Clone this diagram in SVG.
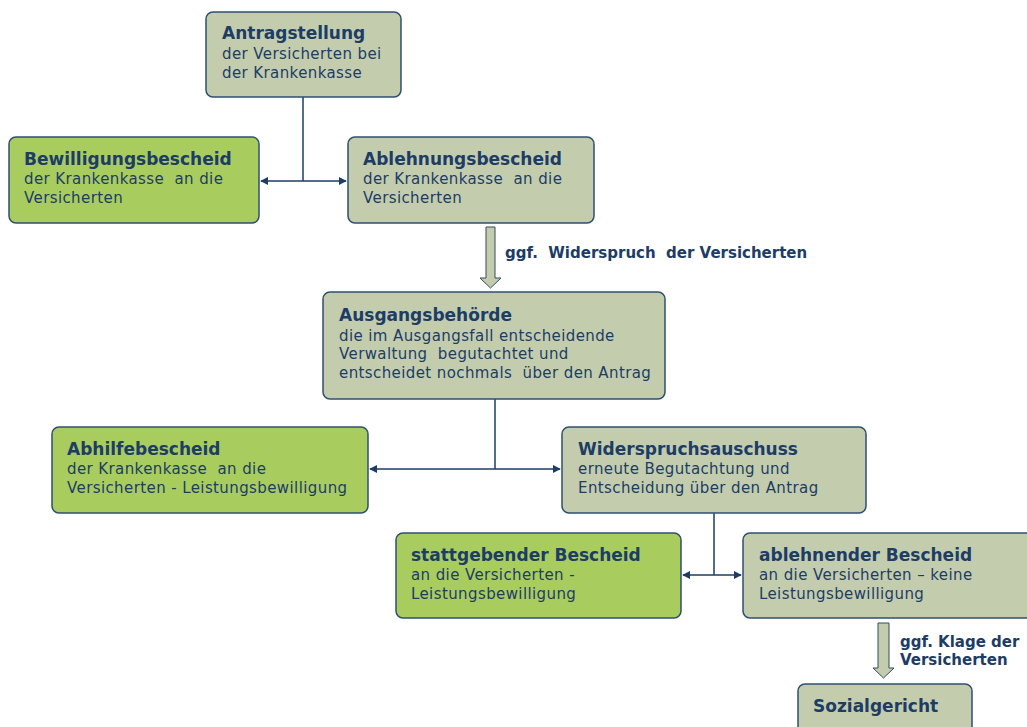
<svg xmlns="http://www.w3.org/2000/svg" width="1027" height="727" viewBox="0 0 1027 727" xml:space="preserve">
<defs>
<style>
.box{stroke:#2f4f72;stroke-width:1.5}
.g{fill:#a8cd5e}
.s{fill:#c3cdad}
text{font-family:"DejaVu Sans","Verdana",sans-serif;fill:#1d3c66;white-space:pre}
.t{font-weight:bold;font-size:17px}
.b{font-size:15px;letter-spacing:0.4px}
.l{font-weight:bold;font-size:15px}
.c{stroke:#1d3c66;stroke-width:1.5;fill:none}
.ba{fill:#c3cdad;stroke:#2f4f5a;stroke-width:1}
</style>
<marker id="ah" viewBox="0 0 10 10" refX="9" refY="5" markerWidth="8" markerHeight="8" markerUnits="userSpaceOnUse" orient="auto-start-reverse">
<path d="M0,0 L10,5 L0,10 z" fill="#1d3c66"/>
</marker>
</defs>
<rect width="1027" height="727" fill="#ffffff"/>
<g id="connectors">
<path class="c" d="M303,97 V181"/>
<path class="c" d="M261,181 H346" marker-start="url(#ah)" marker-end="url(#ah)"/>
<path class="c" d="M495,399 V469"/>
<path class="c" d="M370,469 H560" marker-start="url(#ah)" marker-end="url(#ah)"/>
<path class="c" d="M714,513 V575"/>
<path class="c" d="M683,575 H741" marker-start="url(#ah)" marker-end="url(#ah)"/>
<path class="ba" d="M486,227 H495 V278 H501 L490.5,288 L480,278 H486 Z"/>
<path class="ba" d="M878,623 H889 V668 H894 L883.5,678 L873,668 H878 Z"/>
<text class="l" x="505" y="258">ggf.  Widerspruch  der Versicherten</text>
<text class="l" x="900" y="647">ggf. Klage der</text>
<text class="l" x="900" y="665">Versicherten</text>
</g>
<g id="antragstellung">
<rect class="box s" x="206" y="12" width="195" height="85" rx="7"/>
<text class="t" x="222" y="39">Antragstellung</text>
<text class="b" x="222" y="59">der Versicherten bei</text>
<text class="b" x="222" y="78">der Krankenkasse</text>
</g>
<g id="bewilligungsbescheid">
<rect class="box g" x="9" y="137" width="250" height="86" rx="7"/>
<text class="t" x="24" y="165">Bewilligungsbescheid</text>
<text class="b" x="24" y="184">der Krankenkasse  an die</text>
<text class="b" x="24" y="203">Versicherten</text>
</g>
<g id="ablehnungsbescheid">
<rect class="box s" x="348" y="137" width="246" height="86" rx="7"/>
<text class="t" x="363" y="165">Ablehnungsbescheid</text>
<text class="b" x="363" y="184">der Krankenkasse  an die</text>
<text class="b" x="363" y="203">Versicherten</text>
</g>
<g id="ausgangsbehoerde">
<rect class="box s" x="323" y="292" width="342" height="107" rx="7"/>
<text class="t" x="339" y="321">Ausgangsbehörde</text>
<text class="b" x="339" y="341">die im Ausgangsfall entscheidende</text>
<text class="b" x="339" y="359">Verwaltung  begutachtet und</text>
<text class="b" x="339" y="378">entscheidet nochmals  über den Antrag</text>
</g>
<g id="abhilfebescheid">
<rect class="box g" x="52" y="427" width="316" height="86" rx="7"/>
<text class="t" x="67" y="455">Abhilfebescheid</text>
<text class="b" x="67" y="474">der Krankenkasse  an die</text>
<text class="b" x="67" y="493">Versicherten - Leistungsbewilligung</text>
</g>
<g id="widerspruchsauschuss">
<rect class="box s" x="562" y="427" width="304" height="86" rx="7"/>
<text class="t" x="578" y="455">Widerspruchsauschuss</text>
<text class="b" x="578" y="474">erneute Begutachtung und</text>
<text class="b" x="578" y="493">Entscheidung über den Antrag</text>
</g>
<g id="stattgebender">
<rect class="box g" x="396" y="533" width="285" height="85" rx="7"/>
<text class="t" x="411" y="561">stattgebender Bescheid</text>
<text class="b" x="411" y="580">an die Versicherten -</text>
<text class="b" x="411" y="599">Leistungsbewilligung</text>
</g>
<g id="ablehnender">
<rect class="box s" x="743" y="533" width="290" height="85" rx="7"/>
<text class="t" x="759" y="561">ablehnender Bescheid</text>
<text class="b" x="759" y="580">an die Versicherten – keine</text>
<text class="b" x="759" y="599">Leistungsbewilligung</text>
</g>
<g id="sozialgericht">
<rect class="box s" x="798" y="684" width="174" height="60" rx="7"/>
<text class="t" x="813" y="712">Sozialgericht</text>
</g>
</svg>
